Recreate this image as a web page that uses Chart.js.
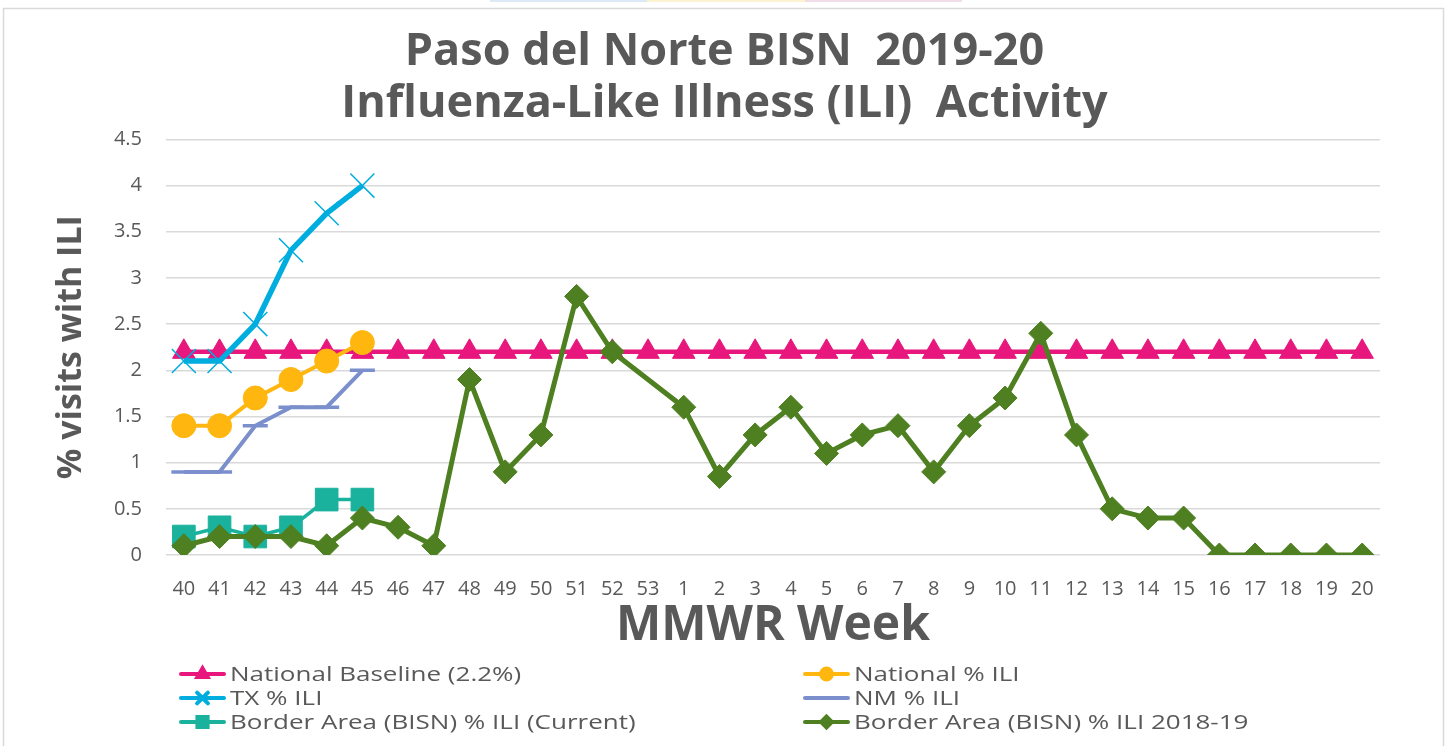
<!DOCTYPE html>
<html>
<head>
<meta charset="utf-8">
<title>Paso del Norte BISN 2019-20 ILI Activity</title>
<script src="https://cdn.jsdelivr.net/npm/chart.js@4/dist/chart.umd.min.js"></script>
<style>
  html, body { margin: 0; padding: 0; background: #fff; overflow: hidden; }
  #wrap { position: relative; width: 1449px; height: 746px; }
  .strip { position: absolute; top: 0; height: 2px; }
</style>
</head>
<body>
<div id="wrap">
  <div class="strip" style="left:490px;width:157px;background:#dce9f7"></div>
  <div class="strip" style="left:647px;width:158px;background:#fdf3d0"></div>
  <div class="strip" style="left:805px;width:157px;background:#f0dde8"></div>
  <canvas id="iliChart" width="1449" height="746"></canvas>
</div>
<script>
// MMWR weeks, 2019-20 season
const weeks = ['40','41','42','43','44','45','46','47','48','49','50','51','52','53',
  '1','2','3','4','5','6','7','8','9','10','11','12','13','14','15','16','17','18','19','20'];

const yTicks = [0, 0.5, 1, 1.5, 2, 2.5, 3, 3.5, 4, 4.5];

const baseline = weeks.map(() => 2.2);
const nationalILI = [1.4, 1.4, 1.7, 1.9, 2.1, 2.3];
const txILI = [2.1, 2.1, 2.5, 3.3, 3.7, 4.0];
const nmILI = [0.9, 0.9, 1.4, 1.6, 1.6, 2.0];
const borderCurrent = [0.2, 0.3, 0.2, 0.3, 0.6, 0.6];
const border1819 = [0.1, 0.2, 0.2, 0.2, 0.1, 0.4, 0.3, 0.1, 1.9, 0.9, 1.3, 2.8, 2.2, null,
  1.6, 0.85, 1.3, 1.6, 1.1, 1.3, 1.4, 0.9, 1.4, 1.7, 2.4, 1.3, 0.5, 0.4, 0.4, 0, 0, 0, 0, 0];

const gray = '#595959';
const font = '"Open Sans", "DejaVu Sans", sans-serif';

function series(label, data, color, style, radius, lineW, markW, order) {
  return {
    label, data, order,
    borderColor: color, backgroundColor: color,
    borderWidth: lineW,
    pointStyle: style, pointRadius: radius, pointHoverRadius: radius,
    pointBorderWidth: markW, pointBackgroundColor: color, pointBorderColor: color,
    tension: 0, fill: false
  };
}

const datasets = [
  series('National Baseline (2.2%)', baseline, '#E8177D', 'triangle', 13, 4.5, 1, 6),
  series('National % ILI', nationalILI, '#FFB70F', 'circle', 12, 4, 1, 5),
  series('TX % ILI', txILI, '#00ADDF', 'crossRot', 17, 5.5, 1.5, 4),
  series('NM % ILI', nmILI, '#7B8FCC', 'line', 12.5, 4, 3.5, 3),
  series('Border Area (BISN) % ILI (Current)', borderCurrent, '#1BB29D', 'rect', 16, 3.5, 1, 2),
  series('Border Area (BISN) % ILI 2018-19', border1819, '#4E8021', 'rectRot', 12, 5, 1, 1)
];
datasets[5].spanGaps = true;

// frame around the chart + two-column legend at the bottom
const framePlugin = {
  id: 'frame',
  beforeDraw(chart) {
    const ctx = chart.ctx;
    ctx.save();
    ctx.fillStyle = '#fff';
    ctx.fillRect(0, 0, chart.width, chart.height);
    ctx.strokeStyle = '#d9d9d9';
    ctx.lineWidth = 1.5;
    ctx.strokeRect(3.5, 8.5, 1440, 760);
    ctx.restore();
  },
  afterDraw(chart) {
    const ctx = chart.ctx;
    const cols = [181, 805];
    const rows = [674, 698, 722];
    chart.data.datasets.forEach((ds, i) => {
      const x0 = cols[i % 2];
      const y = rows[Math.floor(i / 2)];
      ctx.save();
      ctx.strokeStyle = ds.borderColor;
      ctx.lineWidth = 4;
      ctx.lineCap = 'round';
      ctx.beginPath();
      ctx.moveTo(x0, y);
      ctx.lineTo(x0 + 43, y);
      ctx.stroke();
      if (Chart.helpers && Chart.helpers.drawPoint && ds.pointStyle !== 'line') {
        ctx.fillStyle = ds.borderColor;
        Chart.helpers.drawPoint(ctx, {
          pointStyle: ds.pointStyle,
          radius: ds.pointRadius * 0.45,
          rotation: 0,
          borderWidth: ds.pointBorderWidth
        }, x0 + 21.5, y);
      }
      // legend text is drawn a little wider, as in the original
      ctx.translate(x0 + 49, y + 1);
      ctx.scale(1.3, 1);
      ctx.fillStyle = gray;
      ctx.font = '20px ' + font;
      ctx.textBaseline = 'middle';
      ctx.textAlign = 'left';
      ctx.fillText(ds.label, 0, 0);
      ctx.restore();
    });
  }
};

new Chart(document.getElementById('iliChart'), {
  type: 'line',
  data: { labels: weeks, datasets },
  plugins: [framePlugin],
  options: {
    responsive: false,
    animation: false,
    layout: { padding: { left: 0, right: 0, top: 0, bottom: 91 } },
    plugins: {
      legend: { display: false },
      tooltip: { enabled: false },
      title: {
        display: true,
        text: ['Paso del Norte BISN  2019-20', 'Influenza-Like Illness (ILI)  Activity'],
        color: gray,
        font: { family: font, size: 45, weight: 'bold', lineHeight: 1.16 },
        padding: { top: 26, bottom: 9 }
      }
    },
    scales: {
      x: {
        offset: true,
        grid: { display: false },
        border: { display: false },
        ticks: { color: gray, font: { family: font, size: 20 }, padding: 14, maxRotation: 0, autoSkip: false },
        title: {
          display: true, text: 'MMWR Week', color: gray,
          font: { family: font, size: 48, weight: 'bold', lineHeight: 1.2 },
          padding: { top: 0, bottom: 0 }
        },
        afterFit(scale) { scale.height = 100; }
      },
      y: {
        min: 0, max: 4.5,
        afterBuildTicks(scale) { scale.ticks = yTicks.map(v => ({ value: v })); },
        grid: { color: '#d9d9d9', lineWidth: 1.5, drawTicks: false },
        border: { display: false },
        ticks: { color: gray, font: { family: font, size: 20 }, padding: 24, callback: v => String(v) },
        title: {
          display: true, text: '% visits with ILI', color: gray,
          font: { family: font, size: 34, weight: 'bold', lineHeight: 1.2 },
          padding: { top: 51, bottom: 0 }
        },
        afterFit(scale) { scale.width = 166; }
      },
      // empty right-hand axis: keeps the plot's right margin while the title stays centred on the page
      yRight: {
        position: 'right',
        min: 0, max: 4.5,
        grid: { display: false },
        border: { display: false },
        ticks: { display: false },
        afterFit(scale) { scale.width = 69; }
      }
    }
  }
});
</script>
</body>
</html>
